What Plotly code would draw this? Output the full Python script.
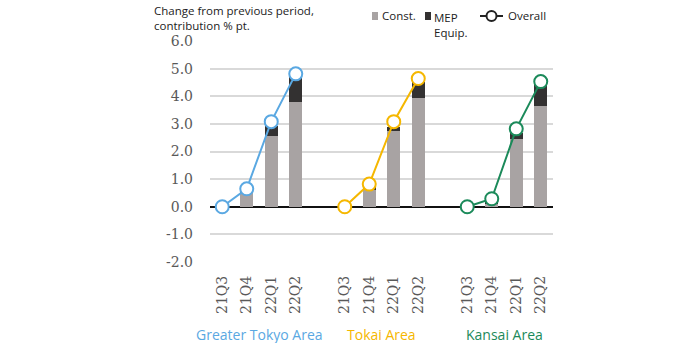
import plotly.graph_objects as go

# Regions and quarters
areas = ["Greater Tokyo Area", "Tokai Area", "Kansai Area"]
quarters = ["21Q3", "21Q4", "22Q1", "22Q2"]
area_colors = ["#5AA8E2", "#F5B700", "#1B8A5A"]

# Contributions (% pt.) per area, by quarter
const_vals = {
    "Greater Tokyo Area": [0.0, 0.50, 2.55, 3.80],
    "Tokai Area": [0.0, 0.60, 2.75, 3.93],
    "Kansai Area": [0.0, 0.12, 2.44, 3.65],
}
mep_vals = {
    "Greater Tokyo Area": [0.0, 0.12, 0.37, 0.90],
    "Tokai Area": [0.0, 0.15, 0.12, 0.60],
    "Kansai Area": [0.0, 0.05, 0.23, 0.78],
}
overall_vals = {
    "Greater Tokyo Area": [0.0, 0.65, 3.08, 4.81],
    "Tokai Area": [0.0, 0.82, 3.08, 4.64],
    "Kansai Area": [0.0, 0.29, 2.82, 4.53],
}

y_ticks = [-2, -1, 0, 1, 2, 3, 4, 5, 6]

CONST_COLOR = "#A8A3A3"
MEP_COLOR = "#333131"
TEXT_COLOR = "#222222"
SLOTS_PER_AREA = len(quarters) + 1  # one empty slot between areas

# plot area in pixels (used to place the hand-drawn legend)
W, H = 682, 343
L, R, T, B = 210, 129, 41, 81
PW, PH = W - L - R, H - T - B


def px(x):
    return (x - L) / PW


def py(y):
    return (H - B - y) / PH


fig = go.Figure()

tickvals, ticktext = [], []
for g, area in enumerate(areas):
    xs = [g * SLOTS_PER_AREA + i for i in range(len(quarters))]
    tickvals += xs
    ticktext += quarters
    fig.add_trace(go.Bar(x=xs, y=const_vals[area], marker_color=CONST_COLOR,
                         marker_line_width=0, showlegend=False, name="Const."))
    fig.add_trace(go.Bar(x=xs, y=mep_vals[area], marker_color=MEP_COLOR,
                         marker_line_width=0, showlegend=False, name="MEP Equip."))

for g, area in enumerate(areas):
    xs = [g * SLOTS_PER_AREA + i for i in range(len(quarters))]
    fig.add_trace(go.Scatter(
        x=xs, y=overall_vals[area], mode="lines+markers",
        line=dict(color=area_colors[g], width=2),
        marker=dict(size=13, color="white", line=dict(color=area_colors[g], width=2)),
        showlegend=False, name=area, cliponaxis=False))
    # area label under the quarter ticks
    fig.add_annotation(x=(xs[0] + xs[-1]) / 2, y=py(323), xref="x", yref="paper",
                       text=area, showarrow=False, yanchor="top",
                       font=dict(family="Open Sans", size=14, color=area_colors[g]))

fig.update_layout(
    barmode="stack",
    bargap=0.48,
    width=W, height=H,
    margin=dict(l=L, r=R, t=T, b=B),
    paper_bgcolor="white", plot_bgcolor="white",
    xaxis=dict(range=[-0.5, SLOTS_PER_AREA * len(areas) - 1.5], tickvals=tickvals,
               ticktext=ticktext, tickangle=-90, showgrid=False, zeroline=False,
               showline=False, ticks="", ticklabelstandoff=10,
               tickfont=dict(family="DejaVu Serif", size=14, color="#595959")),
    yaxis=dict(range=[-2, 6], tickvals=y_ticks, ticktext=[f"{v:.1f}" for v in y_ticks],
               showgrid=True, gridcolor="#D9D9D9", gridwidth=1.5,
               zeroline=True, zerolinecolor="#111111", zerolinewidth=1.5,
               showline=False, ticks="", ticklabelstandoff=16,
               tickfont=dict(family="DejaVu Serif", size=14, color="#595959")),
    font=dict(family="Open Sans"),
)

# Axis title in the top-left corner
fig.add_annotation(
    xref="paper", yref="paper", x=px(152), y=py(1), xanchor="left", yanchor="top",
    text="Change from previous period,<br>contribution % pt.", showarrow=False, align="left",
    font=dict(family="Open Sans", size=11.5, color=TEXT_COLOR))

# Legend: swatches and labels
fig.add_shape(type="rect", xref="paper", yref="paper",
              x0=px(372), x1=px(378), y0=py(20), y1=py(12),
              fillcolor=CONST_COLOR, line_width=0)
fig.add_annotation(xref="paper", yref="paper", x=px(380), y=py(16),
                   xanchor="left", yanchor="middle", text="Const.", showarrow=False,
                   font=dict(family="Open Sans", size=11.5, color=TEXT_COLOR))
fig.add_shape(type="rect", xref="paper", yref="paper",
              x0=px(425), x1=px(431), y0=py(20), y1=py(12),
              fillcolor=MEP_COLOR, line_width=0)
fig.add_annotation(xref="paper", yref="paper", x=px(432), y=py(8),
                   xanchor="left", yanchor="top", text="MEP<br>Equip.", showarrow=False,
                   align="left", font=dict(family="Open Sans", size=11.5, color=TEXT_COLOR))
fig.add_shape(type="line", xref="paper", yref="paper",
              x0=px(480), x1=px(503), y0=py(16), y1=py(16),
              line=dict(color=TEXT_COLOR, width=2))
fig.add_shape(type="circle", xref="paper", yref="paper",
              x0=px(486.5), x1=px(496.5), y0=py(21), y1=py(11),
              fillcolor="white", line=dict(color=TEXT_COLOR, width=2))
fig.add_annotation(xref="paper", yref="paper", x=px(506), y=py(16),
                   xanchor="left", yanchor="middle", text="Overall", showarrow=False,
                   font=dict(family="Open Sans", size=11.5, color=TEXT_COLOR))

fig.write_html("out.html")
